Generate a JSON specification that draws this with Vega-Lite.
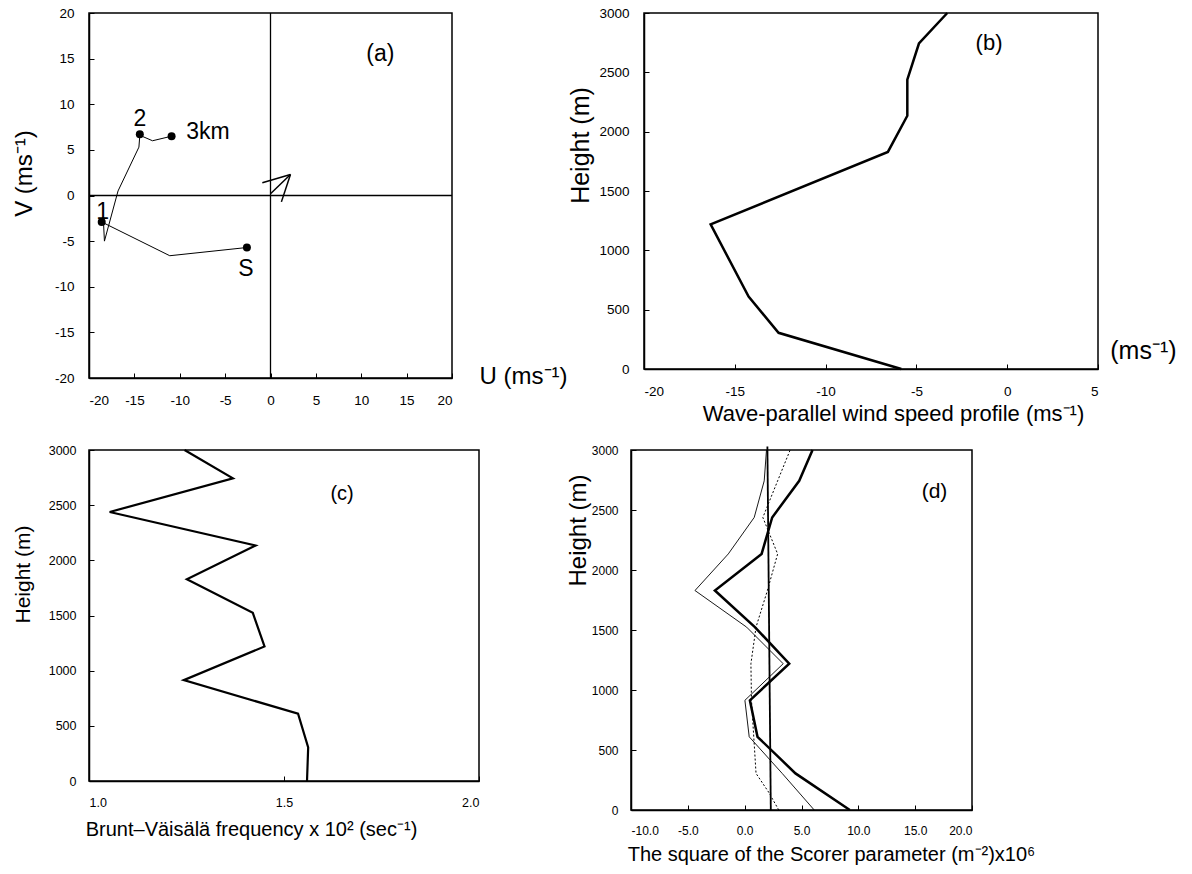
{
"$schema": "https://vega.github.io/schema/vega-lite/v6.json",
"background": "white",
"padding": {"left": 11, "top": 5, "right": 5, "bottom": 5},
"config": {
  "font": "Liberation Sans",
  "view": {"stroke": "black", "strokeWidth": 1.5},
  "axis": {"grid": false, "domainColor": "black", "domainWidth": 1.5, "tickColor": "black", "tickSize": -5, "tickWidth": 1, "labelColor": "black", "labelFontSize": 13.5, "labelPadding": 20, "labelFont": "Liberation Sans", "titleColor": "black", "titleFontWeight": "normal", "titleFontSize": 21, "titleFont": "Liberation Sans", "titleAlign": "center", "titleBaseline": "middle"},
  "text": {"font": "Liberation Sans", "color": "black"}
},
"datasets": {
  "a_path": [{"i":0,"u":-2.6,"v":-5.7},{"i":1,"u":-11.1,"v":-6.6},{"i":2,"u":-18.4,"v":-3.0},{"i":3,"u":-18.3,"v":-5.0},{"i":4,"u":-16.8,"v":0.5},{"i":5,"u":-14.5,"v":5.3},{"i":6,"u":-14.4,"v":6.6},{"i":7,"u":-13.0,"v":6.0},{"i":8,"u":-10.9,"v":6.5}],
  "a_dots": [{"u":-2.6,"v":-5.7},{"u":-18.6,"v":-2.9},{"u":-14.4,"v":6.7},{"u":-10.9,"v":6.5}],
  "a_labels": [{"t":"(a)","u":12.1,"v":15.5},{"t":"2","u":-14.4,"v":8.4},{"t":"3km","u":-6.9,"v":7.0},{"t":"1","u":-18.5,"v":-1.8},{"t":"S","u":-2.7,"v":-8.1}],
  "a_arrow": [{"u":0,"v":0.2,"u2":2.2,"v2":2.3},{"u":-0.9,"v":1.4,"u2":2.2,"v2":2.3},{"u":1.2,"v":-0.7,"u2":2.2,"v2":2.3}],
  "b_line": [{"h":0,"s":-5.83},{"h":305,"s":-12.59},{"h":610,"s":-14.24},{"h":1219,"s":-16.33},{"h":1829,"s":-6.57},{"h":2134,"s":-5.5},{"h":2438,"s":-5.5},{"h":2743,"s":-4.86},{"h":3000,"s":-3.3}],
  "b_labels": [{"t":"(b)","s":-1.0,"h":2750}],
  "b_unit": [{"t":"(ms⁻¹)","s":7.5,"h":150}],
  "c_line": [{"h":0,"n":1.559},{"h":305,"n":1.562},{"h":610,"n":1.536},{"h":914,"n":1.243},{"h":1219,"n":1.45},{"h":1524,"n":1.42},{"h":1829,"n":1.251},{"h":2134,"n":1.427},{"h":2438,"n":1.053},{"h":2743,"n":1.369},{"h":3000,"n":1.245}],
  "c_labels": [{"t":"(c)","n":1.649,"h":2600}],
  "d_bold": [{"h":0,"l":9.25},{"h":305,"l":4.47},{"h":610,"l":1.13},{"h":914,"l":0.46},{"h":1219,"l":3.92},{"h":1524,"l":0.9},{"h":1829,"l":-2.62},{"h":2134,"l":1.49},{"h":2438,"l":2.42},{"h":2743,"l":4.8},{"h":3000,"l":5.97}],
  "d_thin": [{"h":0,"l":6.12},{"h":305,"l":3.3},{"h":610,"l":0.4},{"h":914,"l":0.02},{"h":1219,"l":3.39},{"h":1524,"l":0.17},{"h":1829,"l":-4.37},{"h":2134,"l":-1.44},{"h":2438,"l":0.84},{"h":2743,"l":1.72},{"h":3000,"l":1.92}],
  "d_dot": [{"h":0,"l":3.0},{"h":150,"l":2.1},{"h":305,"l":1.0},{"h":610,"l":0.8},{"h":914,"l":0.6},{"h":1219,"l":0.55},{"h":1524,"l":1.0},{"h":1829,"l":2.0},{"h":2134,"l":2.9},{"h":2438,"l":1.6},{"h":2743,"l":2.9},{"h":3000,"l":4.0}],
  "d_vert": [{"h":0,"l":2.3},{"h":3030,"l":2.0}],
  "d_labels": [{"t":"(d)","l":16.7,"h":2650}]
},
"spacing": 17,
"vconcat": [
  {"bounds": "flush", "spacing": 192, "hconcat": [
    {"width": 363, "height": 365, "layer": [
      {"data": {"name": "a_path"}, "mark": {"type": "line", "color": "black", "strokeWidth": 1},
       "encoding": {
         "x": {"field": "u", "type": "quantitative", "scale": {"domain": [-20, 20], "nice": false, "zero": false},
               "axis": {"values": [-20,-15,-10,-5,0,5,10,15,20], "title": "U (ms⁻¹)", "titleX": 434, "titleY": -2, "titleFontSize": 24, "labelExpr": "replace(datum.label, '−', '-')"}},
         "y": {"field": "v", "type": "quantitative", "scale": {"domain": [-20, 20], "nice": false, "zero": false},
               "axis": {"values": [-20,-15,-10,-5,0,5,10,15,20], "title": "V (ms⁻¹)", "titleX": -65, "titleY": 160, "titleAngle": -90, "titleFontSize": 24, "labelExpr": "replace(datum.label, '−', '-')"}},
         "order": {"field": "i", "type": "quantitative"}}},
      {"data": {"values": [{}]}, "mark": {"type": "rule", "color": "black", "strokeWidth": 1.3}, "encoding": {"x": {"datum": 0, "type": "quantitative"}}},
      {"data": {"values": [{}]}, "mark": {"type": "rule", "color": "black", "strokeWidth": 1.3}, "encoding": {"y": {"datum": 0, "type": "quantitative"}}},
      {"data": {"name": "a_arrow"}, "mark": {"type": "rule", "color": "black", "strokeWidth": 1.5},
       "encoding": {"x": {"field": "u", "type": "quantitative"}, "y": {"field": "v", "type": "quantitative"}, "x2": {"field": "u2"}, "y2": {"field": "v2"}}},
      {"data": {"name": "a_dots"}, "mark": {"type": "point", "filled": true, "color": "black", "size": 64, "opacity": 1},
       "encoding": {"x": {"field": "u", "type": "quantitative"}, "y": {"field": "v", "type": "quantitative"}}},
      {"data": {"name": "a_labels"}, "mark": {"type": "text", "fontSize": 23, "color": "black"},
       "encoding": {"x": {"field": "u", "type": "quantitative"}, "y": {"field": "v", "type": "quantitative"}, "text": {"field": "t"}}}
    ]},
    {"width": 454, "height": 356, "layer": [
      {"data": {"name": "b_line"}, "mark": {"type": "line", "color": "black", "strokeWidth": 2.5},
       "encoding": {
         "x": {"field": "s", "type": "quantitative", "scale": {"domain": [-20, 5], "nice": false, "zero": false},
               "axis": {"values": [-20,-15,-10,-5,0,5], "title": "Wave-parallel wind speed profile (ms⁻¹)", "titleX": 249, "titleY": 44, "titleFontSize": 22, "labelExpr": "replace(datum.label, '−', '-')"}},
         "y": {"field": "h", "type": "quantitative", "scale": {"domain": [0, 3000], "nice": false},
               "axis": {"values": [0,500,1000,1500,2000,2500,3000], "format": "d", "title": "Height (m)", "titleX": -64, "titleY": 132, "titleAngle": -90, "titleFontSize": 25}},
         "order": {"field": "h", "type": "quantitative"}}},
      {"data": {"name": "b_labels"}, "mark": {"type": "text", "fontSize": 22, "color": "black"},
       "encoding": {"x": {"field": "s", "type": "quantitative"}, "y": {"field": "h", "type": "quantitative"}, "text": {"field": "t"}}},
      {"data": {"name": "b_unit"}, "mark": {"type": "text", "fontSize": 25, "color": "black"},
       "encoding": {"x": {"field": "s", "type": "quantitative"}, "y": {"field": "h", "type": "quantitative"}, "text": {"field": "t"}}}
    ]}
  ]},
  {"bounds": "flush", "spacing": 152, "hconcat": [
    {"width": 390, "height": 331, "layer": [
      {"data": {"name": "c_line"}, "mark": {"type": "line", "color": "black", "strokeWidth": 2.2},
       "encoding": {
         "x": {"field": "n", "type": "quantitative", "scale": {"domain": [1, 2], "nice": false, "zero": false},
               "axis": {"values": [1, 1.5, 2], "format": ".1f", "title": "Brunt–Väisälä frequency x 10² (sec⁻¹)", "titleX": 162, "titleY": 48, "titleFontSize": 20, "labelFontSize": 12.5}},
         "y": {"field": "h", "type": "quantitative", "scale": {"domain": [0, 3000], "nice": false},
               "axis": {"values": [0,500,1000,1500,2000,2500,3000], "format": "d", "labelPadding": 18, "title": "Height (m)", "titleX": -66, "titleY": 124, "titleAngle": -90, "titleFontSize": 21, "labelFontSize": 12.5}},
         "order": {"field": "h", "type": "quantitative"}}},
      {"data": {"name": "c_labels"}, "mark": {"type": "text", "fontSize": 20, "color": "black"},
       "encoding": {"x": {"field": "n", "type": "quantitative"}, "y": {"field": "h", "type": "quantitative"}, "text": {"field": "t"}}}
    ]},
    {"width": 341, "height": 360, "layer": [
      {"data": {"name": "d_thin"}, "mark": {"type": "line", "color": "black", "strokeWidth": 0.9},
       "encoding": {
         "x": {"field": "l", "type": "quantitative", "scale": {"domain": [-10, 20], "nice": false, "zero": false},
               "axis": {"values": [-10,-5,0,5,10,15,20], "format": ".1f", "title": "The square of the Scorer parameter (m⁻²)x10⁶", "titleX": 200, "titleY": 44, "titleFontSize": 20, "labelFontSize": 12, "labelExpr": "replace(datum.label, '−', '-')"}},
         "y": {"field": "h", "type": "quantitative", "scale": {"domain": [0, 3000], "nice": false},
               "axis": {"values": [0,500,1000,1500,2000,2500,3000], "format": "d", "labelPadding": 18, "title": "Height (m)", "titleX": -53, "titleY": 80, "titleAngle": -90, "titleFontSize": 24, "labelFontSize": 12}},
         "order": {"field": "h", "type": "quantitative"}}},
      {"data": {"name": "d_dot"}, "mark": {"type": "line", "color": "black", "strokeWidth": 1, "strokeDash": [2, 2]},
       "encoding": {"x": {"field": "l", "type": "quantitative"}, "y": {"field": "h", "type": "quantitative"}, "order": {"field": "h", "type": "quantitative"}}},
      {"data": {"name": "d_bold"}, "mark": {"type": "line", "color": "black", "strokeWidth": 2.5},
       "encoding": {"x": {"field": "l", "type": "quantitative"}, "y": {"field": "h", "type": "quantitative"}, "order": {"field": "h", "type": "quantitative"}}},
      {"data": {"name": "d_vert"}, "mark": {"type": "line", "color": "black", "strokeWidth": 1.8},
       "encoding": {"x": {"field": "l", "type": "quantitative"}, "y": {"field": "h", "type": "quantitative"}, "order": {"field": "h", "type": "quantitative"}}},
      {"data": {"name": "d_labels"}, "mark": {"type": "text", "fontSize": 21, "color": "black"},
       "encoding": {"x": {"field": "l", "type": "quantitative"}, "y": {"field": "h", "type": "quantitative"}, "text": {"field": "t"}}}
    ]}
  ]}
]
}
